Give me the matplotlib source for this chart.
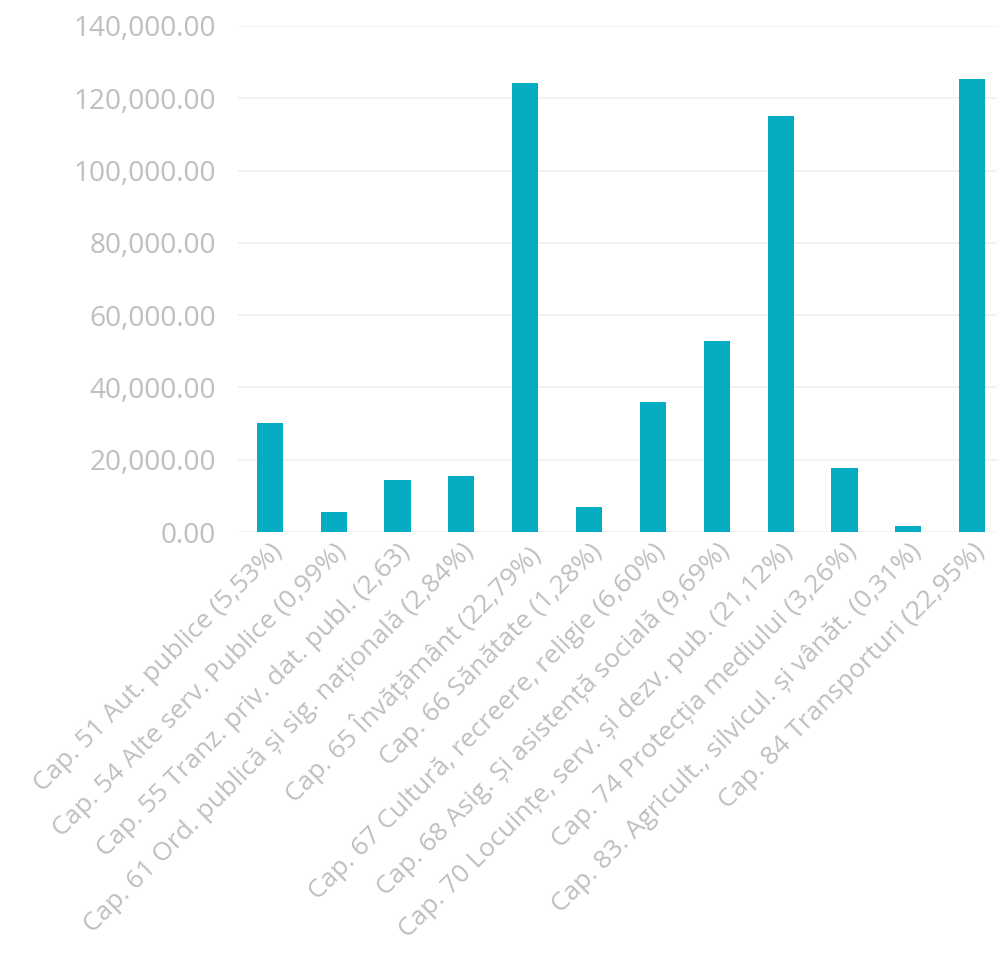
import matplotlib.pyplot as plt
from matplotlib.ticker import FuncFormatter

categories = [
    'Cap. 51 Aut. publice (5,53%)',
    'Cap. 54 Alte serv. Publice (0,99%)',
    'Cap. 55 Tranz. priv. dat. publ. (2,63)',
    'Cap. 61 Ord. publică și sig. națională (2,84%)',
    'Cap. 65 Învățământ (22,79%)',
    'Cap. 66 Sănătate (1,28%)',
    'Cap. 67 Cultură, recreere, religie (6,60%)',
    'Cap. 68 Asig. Și asistență socială (9,69%)',
    'Cap. 70 Locuințe, serv. și dezv. pub. (21,12%)',
    'Cap. 74 Protecția mediului (3,26%)',
    'Cap. 83. Agricult., silvicul. și vânăt. (0,31%)',
    'Cap. 84 Transporturi (22,95%)',
]
values = [30160, 5400, 14350, 15500, 124300, 6980, 36000, 52850, 115200, 17800, 1690, 125200]
y_ticks = [0, 20000, 40000, 60000, 80000, 100000, 120000, 140000]

plt.rcParams['font.family'] = ['Open Sans', 'DejaVu Sans']
text_color = '#BFBFBF'

fig = plt.figure(figsize=(9.97, 9.61), dpi=100)
ax = fig.add_axes([0.2387, 0.4464, 0.7613, 0.5266])

ax.bar(range(len(values)), values, width=0.41, color='#05ACC2', zorder=3)

ax.set_ylim(0, 140000)
ax.set_xlim(-0.5, 11.39)
ax.set_yticks(y_ticks)
ax.yaxis.set_major_formatter(FuncFormatter(lambda v, p: f'{v:,.2f}'))
ax.grid(axis='y', color='#F0F0F0', linewidth=1.2, zorder=0)

ax.set_xticks(range(len(categories)))
ax.set_xticklabels(categories, rotation=45, ha='right', va='top',
                   rotation_mode='anchor', fontsize=19.0, color=text_color)
ax.tick_params(axis='y', labelsize=20.2, labelcolor=text_color, length=0, pad=16)
ax.tick_params(axis='x', length=0, pad=5)
for s in ax.spines.values():
    s.set_visible(False)

plt.savefig('out.png', dpi=100)
